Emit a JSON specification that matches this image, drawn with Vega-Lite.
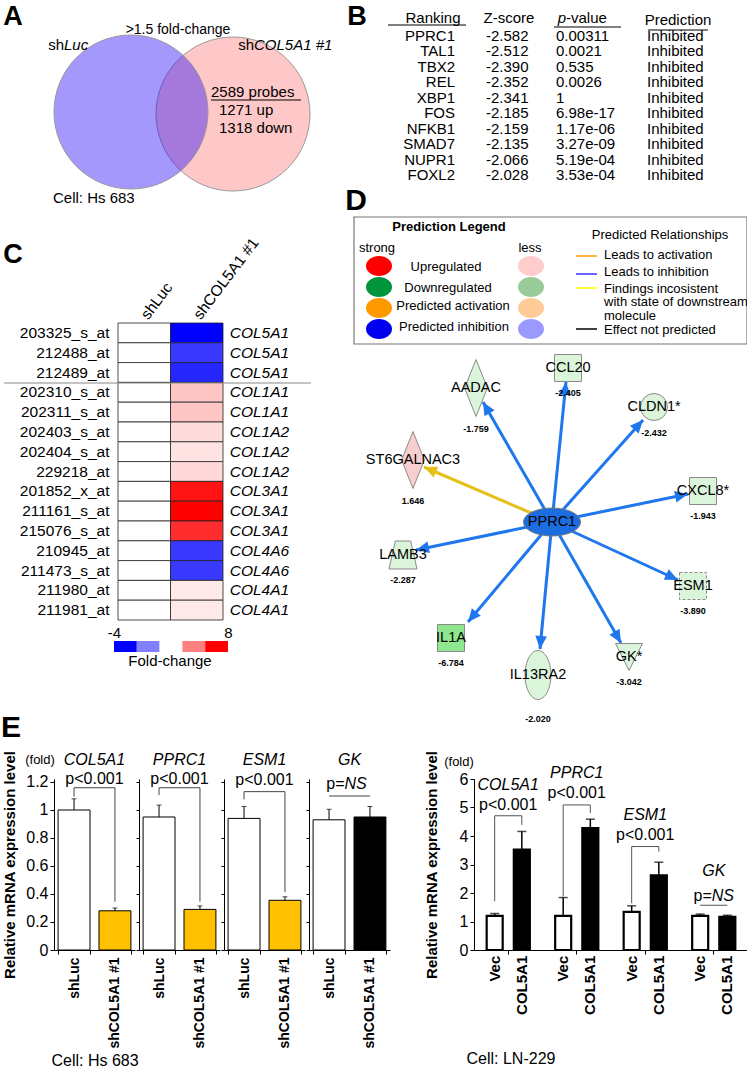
{
"$schema": "https://vega.github.io/schema/vega-lite/v6.json",
"background": "white",
"padding": 0,
"bounds": "flush",
"spacing": 99,
"config": {
  "font": "Liberation Sans",
  "view": {"stroke": null},
  "legend": {"disable": true},
  "axis": {"labelColor": "black", "titleColor": "black", "domainColor": "black", "tickColor": "black", "grid": false, "labelFont": "Liberation Sans", "titleFont": "Liberation Sans", "labelOverlap": false},
  "text": {"color": "black"}
},
"datasets": {
  "venn": [{"set": "shCOL5A1 #1", "x": 232, "y": 114}, {"set": "shLuc", "x": 130, "y": 112}],
  "lines": [
    {"x": 387, "x2": 465, "y": 25, "g": "ul"},
    {"x": 553, "x2": 620, "y": 27, "g": "ul"},
    {"x": 647, "x2": 707, "y": 30, "g": "ul"},
    {"x": 210, "x2": 300, "y": 100, "g": "ul"},
    {"x": 3, "x2": 310, "y": 383, "g": "sep"}
  ],
  "legbox": [{"x": 353, "x2": 746, "y": 217, "y2": 344}],
  "legdots": [
    {"x": 378, "y": 266, "key": "s_up"}, {"x": 378, "y": 287, "key": "s_down"},
    {"x": 378, "y": 308, "key": "s_act"}, {"x": 378, "y": 329, "key": "s_inh"},
    {"x": 530, "y": 266, "key": "l_up"}, {"x": 530, "y": 287, "key": "l_down"},
    {"x": 530, "y": 308, "key": "l_act"}, {"x": 530, "y": 329, "key": "l_inh"}
  ],
  "leglines": [
    {"x": 575, "x2": 596, "y": 256, "rel": "activation"},
    {"x": 575, "x2": 596, "y": 274, "rel": "inhibition"},
    {"x": 575, "x2": 596, "y": 288, "rel": "inconsistent"},
    {"x": 575, "x2": 596, "y": 329, "rel": "notpredicted"}
  ],
  "edges": [
    {"target": "AADAC", "rel": "inhibition", "x": 551, "y": 522, "x2": 482, "y2": 402, "angle": 330},
    {"target": "CCL20", "rel": "inhibition", "x": 551, "y": 522, "x2": 565, "y2": 382, "angle": 6},
    {"target": "CLDN1*", "rel": "inhibition", "x": 551, "y": 522, "x2": 642, "y2": 420, "angle": 42},
    {"target": "CXCL8*", "rel": "inhibition", "x": 551, "y": 522, "x2": 687, "y2": 494, "angle": 78},
    {"target": "ESM1", "rel": "inhibition", "x": 551, "y": 522, "x2": 677, "y2": 580, "angle": 115},
    {"target": "GK*", "rel": "inhibition", "x": 551, "y": 522, "x2": 620, "y2": 643, "angle": 150},
    {"target": "IL13RA2", "rel": "inhibition", "x": 551, "y": 522, "x2": 539, "y2": 649, "angle": 185},
    {"target": "IL1A", "rel": "inhibition", "x": 551, "y": 522, "x2": 467, "y2": 622, "angle": 220},
    {"target": "LAMB3", "rel": "inhibition", "x": 551, "y": 522, "x2": 415, "y2": 550, "angle": 258},
    {"target": "ST6GALNAC3", "rel": "inconsistent", "x": 551, "y": 522, "x2": 423, "y2": 467, "angle": 293}
  ],
  "nodes": [
    {"id": "PPRC1", "x": 551, "y": 522, "shape": "hub", "reg": "hub", "border": "solid", "val": "", "vx": 551, "vy": 522},
    {"id": "AADAC", "x": 475, "y": 388, "shape": "diamond", "reg": "down", "border": "solid", "val": "-1.759", "vx": 475, "vy": 429},
    {"id": "CCL20", "x": 567, "y": 368, "shape": "square", "reg": "down", "border": "solid", "val": "-2.405", "vx": 567, "vy": 393},
    {"id": "CLDN1*", "x": 653, "y": 407, "shape": "circle", "reg": "down", "border": "solid", "val": "-2.432", "vx": 653, "vy": 433},
    {"id": "ST6GALNAC3", "x": 412, "y": 460, "shape": "diamond", "reg": "up", "border": "solid", "val": "1.646", "vx": 412, "vy": 501},
    {"id": "CXCL8*", "x": 702, "y": 491, "shape": "square", "reg": "down", "border": "solid", "val": "-1.943", "vx": 702, "vy": 516},
    {"id": "LAMB3", "x": 402, "y": 555, "shape": "trapezoid", "reg": "down", "border": "solid", "val": "-2.287", "vx": 402, "vy": 580},
    {"id": "ESM1", "x": 692, "y": 586, "shape": "square", "reg": "down", "border": "dashed", "val": "-3.890", "vx": 692, "vy": 611},
    {"id": "IL1A", "x": 450, "y": 638, "shape": "square", "reg": "strongdown", "border": "solid", "val": "-6.784", "vx": 450, "vy": 663},
    {"id": "IL13RA2", "x": 537, "y": 675, "shape": "ellipseV", "reg": "down", "border": "solid", "val": "-2.020", "vx": 537, "vy": 719},
    {"id": "GK*", "x": 628, "y": 657, "shape": "triangleDown", "reg": "down", "border": "solid", "val": "-3.042", "vx": 628, "vy": 682}
  ],
  "ctext": [
    {"x": 12, "y": 17, "t": "A", "k": "L"},
    {"x": 356, "y": 17, "t": "B", "k": "L"},
    {"x": 12, "y": 255, "t": "C", "k": "L"},
    {"x": 355, "y": 201, "t": "D", "k": "L2"},
    {"x": 10, "y": 728, "t": "E", "k": "L2"},
    {"x": 177, "y": 30, "t": ">1.5 fold-change", "k": "c14"},
    {"x": 63, "y": 45, "t": "sh", "k": "r15"},
    {"x": 63, "y": 45, "t": "Luc", "k": "li15"},
    {"x": 253, "y": 45, "t": "sh", "k": "r15"},
    {"x": 253, "y": 45, "t": "COL5A1 #1", "k": "li15"},
    {"x": 210, "y": 92, "t": "2589 probes", "k": "l15"},
    {"x": 218, "y": 110, "t": "1271 up", "k": "l15"},
    {"x": 218, "y": 128, "t": "1318 down", "k": "l15"},
    {"x": 52, "y": 198, "t": "Cell: Hs 683", "k": "l15"},
    {"x": 432, "y": 18, "t": "Ranking", "k": "c15"},
    {"x": 508, "y": 18, "t": "Z-score", "k": "c15"},
    {"x": 565, "y": 18, "t": "p", "k": "ri15"},
    {"x": 565, "y": 18, "t": "-value", "k": "l15"},
    {"x": 677, "y": 20, "t": "Prediction", "k": "c15"},
    {"x": 169, "y": 661, "t": "Fold-change", "k": "c15"},
    {"x": 448, "y": 227, "t": "Prediction Legend", "k": "cb13"},
    {"x": 376, "y": 248, "t": "strong", "k": "c13"},
    {"x": 529, "y": 248, "t": "less", "k": "c13"},
    {"x": 445, "y": 267, "t": "Upregulated", "k": "c13"},
    {"x": 447, "y": 288, "t": "Downregulated", "k": "c13"},
    {"x": 452, "y": 306, "t": "Predicted activation", "k": "c13"},
    {"x": 453, "y": 327, "t": "Predicted inhibition", "k": "c13"},
    {"x": 659, "y": 235, "t": "Predicted Relationships", "k": "c13"},
    {"x": 603, "y": 255, "t": "Leads to activation", "k": "l13"},
    {"x": 603, "y": 272, "t": "Leads to inhibition", "k": "l13"},
    {"x": 603, "y": 289, "t": "Findings incosistent", "k": "l13"},
    {"x": 603, "y": 302, "t": "with state of downstream", "k": "l13"},
    {"x": 603, "y": 316, "t": "molecule", "k": "l13"},
    {"x": 603, "y": 330, "t": "Effect not predicted", "k": "l13"},
    {"x": 39, "y": 760, "t": "(fold)", "k": "c13"},
    {"x": 458, "y": 762, "t": "(fold)", "k": "c13"}
  ],
  "table": [
    {"rank": 1, "gene": "PPRC1", "z": "-2.582", "p": "0.00311", "pred": "Inhibited"},
    {"rank": 2, "gene": "TAL1", "z": "-2.512", "p": "0.0021", "pred": "Inhibited"},
    {"rank": 3, "gene": "TBX2", "z": "-2.390", "p": "0.535", "pred": "Inhibited"},
    {"rank": 4, "gene": "REL", "z": "-2.352", "p": "0.0026", "pred": "Inhibited"},
    {"rank": 5, "gene": "XBP1", "z": "-2.341", "p": "1", "pred": "Inhibited"},
    {"rank": 6, "gene": "FOS", "z": "-2.185", "p": "6.98e-17", "pred": "Inhibited"},
    {"rank": 7, "gene": "NFKB1", "z": "-2.159", "p": "1.17e-06", "pred": "Inhibited"},
    {"rank": 8, "gene": "SMAD7", "z": "-2.135", "p": "3.27e-09", "pred": "Inhibited"},
    {"rank": 9, "gene": "NUPR1", "z": "-2.066", "p": "5.19e-04", "pred": "Inhibited"},
    {"rank": 10, "gene": "FOXL2", "z": "-2.028", "p": "3.53e-04", "pred": "Inhibited"}
  ],
  "heat": [
    {"probe": "203325_s_at", "gene": "COL5A1", "cond": "shLuc", "fc": 0}, {"probe": "203325_s_at", "gene": "COL5A1", "cond": "shCOL5A1 #1", "fc": -4},
    {"probe": "212488_at", "gene": "COL5A1", "cond": "shLuc", "fc": 0}, {"probe": "212488_at", "gene": "COL5A1", "cond": "shCOL5A1 #1", "fc": -3.1},
    {"probe": "212489_at", "gene": "COL5A1", "cond": "shLuc", "fc": 0}, {"probe": "212489_at", "gene": "COL5A1", "cond": "shCOL5A1 #1", "fc": -3.4},
    {"probe": "202310_s_at", "gene": "COL1A1", "cond": "shLuc", "fc": 0}, {"probe": "202310_s_at", "gene": "COL1A1", "cond": "shCOL5A1 #1", "fc": 1.8},
    {"probe": "202311_s_at", "gene": "COL1A1", "cond": "shLuc", "fc": 0}, {"probe": "202311_s_at", "gene": "COL1A1", "cond": "shCOL5A1 #1", "fc": 1.8},
    {"probe": "202403_s_at", "gene": "COL1A2", "cond": "shLuc", "fc": 0}, {"probe": "202403_s_at", "gene": "COL1A2", "cond": "shCOL5A1 #1", "fc": 1.1},
    {"probe": "202404_s_at", "gene": "COL1A2", "cond": "shLuc", "fc": 0}, {"probe": "202404_s_at", "gene": "COL1A2", "cond": "shCOL5A1 #1", "fc": 0.9},
    {"probe": "229218_at", "gene": "COL1A2", "cond": "shLuc", "fc": 0}, {"probe": "229218_at", "gene": "COL1A2", "cond": "shCOL5A1 #1", "fc": 1.2},
    {"probe": "201852_x_at", "gene": "COL3A1", "cond": "shLuc", "fc": 0}, {"probe": "201852_x_at", "gene": "COL3A1", "cond": "shCOL5A1 #1", "fc": 7.4},
    {"probe": "211161_s_at", "gene": "COL3A1", "cond": "shLuc", "fc": 0}, {"probe": "211161_s_at", "gene": "COL3A1", "cond": "shCOL5A1 #1", "fc": 8},
    {"probe": "215076_s_at", "gene": "COL3A1", "cond": "shLuc", "fc": 0}, {"probe": "215076_s_at", "gene": "COL3A1", "cond": "shCOL5A1 #1", "fc": 6.6},
    {"probe": "210945_at", "gene": "COL4A6", "cond": "shLuc", "fc": 0}, {"probe": "210945_at", "gene": "COL4A6", "cond": "shCOL5A1 #1", "fc": -3.1},
    {"probe": "211473_s_at", "gene": "COL4A6", "cond": "shLuc", "fc": 0}, {"probe": "211473_s_at", "gene": "COL4A6", "cond": "shCOL5A1 #1", "fc": -3.1},
    {"probe": "211980_at", "gene": "COL4A1", "cond": "shLuc", "fc": 0}, {"probe": "211980_at", "gene": "COL4A1", "cond": "shCOL5A1 #1", "fc": 0.7},
    {"probe": "211981_at", "gene": "COL4A1", "cond": "shLuc", "fc": 0}, {"probe": "211981_at", "gene": "COL4A1", "cond": "shCOL5A1 #1", "fc": 0.7}
  ],
  "fcleg": [
    {"lo": -4, "hi": -1.6, "fc": -4}, {"lo": -1.6, "hi": 0.8, "fc": -2}, {"lo": 0.8, "hi": 3.2, "fc": 0},
    {"lo": 3.2, "hi": 5.6, "fc": 4}, {"lo": 5.6, "hi": 8, "fc": 8}
  ],
  "eleft": [
    {"gene": "COL5A1", "cond": "shLuc", "status": "ctrl", "mean": 1.0, "upper": 1.08},
    {"gene": "COL5A1", "cond": "shCOL5A1 #1", "status": "down", "mean": 0.28, "upper": 0.3},
    {"gene": "PPRC1", "cond": "shLuc", "status": "ctrl", "mean": 0.95, "upper": 1.035},
    {"gene": "PPRC1", "cond": "shCOL5A1 #1", "status": "down", "mean": 0.29, "upper": 0.315},
    {"gene": "ESM1", "cond": "shLuc", "status": "ctrl", "mean": 0.94, "upper": 1.025},
    {"gene": "ESM1", "cond": "shCOL5A1 #1", "status": "down", "mean": 0.355, "upper": 0.38},
    {"gene": "GK", "cond": "shLuc", "status": "ctrl", "mean": 0.93, "upper": 1.005},
    {"gene": "GK", "cond": "shCOL5A1 #1", "status": "ns", "mean": 0.95, "upper": 1.025}
  ],
  "bleft": [
    {"gene": "COL5A1", "cond": "shLuc", "y": 1.095, "o": 0}, {"gene": "COL5A1", "cond": "shLuc", "y": 1.159, "o": 1},
    {"gene": "COL5A1", "cond": "shCOL5A1 #1", "y": 1.159, "o": 2}, {"gene": "COL5A1", "cond": "shCOL5A1 #1", "y": 0.345, "o": 3},
    {"gene": "PPRC1", "cond": "shLuc", "y": 1.107, "o": 0}, {"gene": "PPRC1", "cond": "shLuc", "y": 1.159, "o": 1},
    {"gene": "PPRC1", "cond": "shCOL5A1 #1", "y": 1.159, "o": 2}, {"gene": "PPRC1", "cond": "shCOL5A1 #1", "y": 0.345, "o": 3},
    {"gene": "ESM1", "cond": "shLuc", "y": 1.076, "o": 0}, {"gene": "ESM1", "cond": "shLuc", "y": 1.131, "o": 1},
    {"gene": "ESM1", "cond": "shCOL5A1 #1", "y": 1.131, "o": 2}, {"gene": "ESM1", "cond": "shCOL5A1 #1", "y": 0.414, "o": 3},
    {"gene": "GK", "cond": "shLuc", "y": 1.1, "o": 0}, {"gene": "GK", "cond": "shCOL5A1 #1", "y": 1.1, "o": 1}
  ],
  "eright": [
    {"gene": "COL5A1", "cond": "Vec", "status": "ctrl", "mean": 1.2, "upper": 1.28},
    {"gene": "COL5A1", "cond": "COL5A1", "status": "oe", "mean": 3.52, "upper": 4.16},
    {"gene": "PPRC1", "cond": "Vec", "status": "ctrl", "mean": 1.2, "upper": 1.84},
    {"gene": "PPRC1", "cond": "COL5A1", "status": "oe", "mean": 4.28, "upper": 4.59},
    {"gene": "ESM1", "cond": "Vec", "status": "ctrl", "mean": 1.34, "upper": 1.55},
    {"gene": "ESM1", "cond": "COL5A1", "status": "oe", "mean": 2.62, "upper": 3.08},
    {"gene": "GK", "cond": "Vec", "status": "ctrl", "mean": 1.2, "upper": 1.26},
    {"gene": "GK", "cond": "COL5A1", "status": "oe", "mean": 1.16, "upper": 1.22}
  ],
  "bright": [
    {"gene": "COL5A1", "cond": "Vec", "y": 1.71, "o": 0}, {"gene": "COL5A1", "cond": "Vec", "y": 4.71, "o": 1},
    {"gene": "COL5A1", "cond": "COL5A1", "y": 4.71, "o": 2}, {"gene": "COL5A1", "cond": "COL5A1", "y": 4.39, "o": 3},
    {"gene": "PPRC1", "cond": "Vec", "y": 1.88, "o": 0}, {"gene": "PPRC1", "cond": "Vec", "y": 5.09, "o": 1},
    {"gene": "PPRC1", "cond": "COL5A1", "y": 5.09, "o": 2}, {"gene": "PPRC1", "cond": "COL5A1", "y": 4.81, "o": 3},
    {"gene": "ESM1", "cond": "Vec", "y": 1.64, "o": 0}, {"gene": "ESM1", "cond": "Vec", "y": 3.63, "o": 1},
    {"gene": "ESM1", "cond": "COL5A1", "y": 3.63, "o": 2}, {"gene": "ESM1", "cond": "COL5A1", "y": 3.45, "o": 3},
    {"gene": "GK", "cond": "Vec", "y": 1.57, "o": 0}, {"gene": "GK", "cond": "COL5A1", "y": 1.57, "o": 1}
  ],
  "eannr": [
    {"gene": "COL5A1", "ny": 5.79, "py": 5.09},
    {"gene": "PPRC1", "ny": 6.21, "py": 5.51},
    {"gene": "ESM1", "ny": 4.74, "py": 4.05},
    {"gene": "GK", "ny": 2.76, "py": 1.88}
  ]
},
"vconcat": [
  {
    "width": 747, "height": 680,
    "resolve": {"scale": {"x": "independent", "y": "independent", "color": "independent"}},
    "layer": [
      {
        "data": {"name": "heat"},
        "mark": {"type": "rect", "stroke": "#222", "strokeWidth": 0.8},
        "encoding": {
          "x": {"field": "cond", "type": "nominal", "scale": {"domain": ["shLuc", "shCOL5A1 #1"], "range": [117, 222], "paddingInner": 0, "paddingOuter": 0},
                "axis": {"orient": "top", "offset": -323, "domain": false, "ticks": false, "labelAngle": -53, "labelAlign": "left", "labelBaseline": "middle", "labelPadding": 6, "labelFontSize": 15.5, "title": null}},
          "y": {"field": "probe", "type": "nominal", "sort": null, "scale": {"range": [323, 620], "paddingInner": 0, "paddingOuter": 0},
                "axis": {"orient": "left", "offset": -117, "domain": false, "ticks": false, "labelPadding": 9, "labelFontSize": 15.5, "title": null}},
          "color": {"field": "fc", "type": "quantitative", "scale": {"domain": [-4, 0, 8], "range": ["#0000ff", "#ffffff", "#ff0000"], "interpolate": "rgb"}}
        }
      },
      {
        "data": {"name": "heat"},
        "transform": [{"filter": "datum.cond === 'shCOL5A1 #1'"}],
        "mark": {"type": "text", "align": "left", "dx": 33, "fontStyle": "italic", "fontSize": 15.5},
        "encoding": {
          "x": {"field": "cond", "type": "nominal", "scale": {"domain": ["shLuc", "shCOL5A1 #1"], "range": [117, 222], "paddingInner": 0, "paddingOuter": 0}, "axis": null},
          "y": {"field": "probe", "type": "nominal", "sort": null, "scale": {"range": [323, 620], "paddingInner": 0, "paddingOuter": 0}, "axis": null},
          "text": {"field": "gene"}
        }
      },
      {
        "data": {"name": "fcleg"},
        "mark": {"type": "rect"},
        "encoding": {
          "x": {"field": "lo", "type": "quantitative", "scale": {"domain": [-4, 8], "range": [113, 227], "nice": false, "zero": false},
                "axis": {"orient": "top", "offset": -641, "values": [-4, 8], "labelExpr": "'' + datum.value", "domain": false, "ticks": false, "labelPadding": 1, "labelFontSize": 15, "labelFlush": false, "title": null}},
          "x2": {"field": "hi"},
          "y": {"datum": "Fold-change", "type": "nominal", "scale": {"range": [641, 652], "paddingInner": 0, "paddingOuter": 0}, "axis": null},
          "color": {"field": "fc", "type": "quantitative", "scale": {"domain": [-4, 0, 8], "range": ["#0000ff", "#ffffff", "#ff0000"], "interpolate": "rgb"}}
        }
      },
      {
        "data": {"name": "table"},
        "encoding": {"y": {"field": "rank", "type": "quantitative", "scale": {"domain": [1, 10], "range": [36, 175], "nice": false, "zero": false}, "axis": null}},
        "layer": [
          {"mark": {"type": "text", "align": "right", "fontSize": 15}, "encoding": {"x": {"datum": 454, "type": "quantitative", "scale": {"domain": [0, 747], "nice": false, "zero": false}, "axis": null}, "text": {"field": "gene"}}},
          {"mark": {"type": "text", "align": "left", "fontSize": 15}, "encoding": {"x": {"datum": 485, "type": "quantitative", "scale": {"domain": [0, 747], "nice": false, "zero": false}, "axis": null}, "text": {"field": "z"}}},
          {"mark": {"type": "text", "align": "left", "fontSize": 15}, "encoding": {"x": {"datum": 555, "type": "quantitative", "scale": {"domain": [0, 747], "nice": false, "zero": false}, "axis": null}, "text": {"field": "p"}}},
          {"mark": {"type": "text", "align": "left", "fontSize": 15}, "encoding": {"x": {"datum": 646, "type": "quantitative", "scale": {"domain": [0, 747], "nice": false, "zero": false}, "axis": null}, "text": {"field": "pred"}}}
        ]
      },
      {
        "encoding": {
          "x": {"field": "x", "type": "quantitative", "scale": {"domain": [0, 747], "nice": false, "zero": false}, "axis": null},
          "y": {"field": "y", "type": "quantitative", "scale": {"domain": [0, 680], "nice": false, "zero": false, "reverse": true}, "axis": null}
        },
        "resolve": {"scale": {"fill": "independent", "stroke": "independent", "color": "independent"}},
        "layer": [
          {
            "data": {"name": "venn"},
            "mark": {"type": "point", "shape": "circle", "size": 23716, "filled": true, "opacity": 1, "stroke": "#999", "strokeWidth": 1},
            "encoding": {"fill": {"field": "set", "type": "nominal", "scale": {"domain": ["shCOL5A1 #1", "shLuc"], "range": ["#ffc8c8", "rgba(40,9,248,0.42)"]}}}
          },
          {
            "data": {"name": "lines"},
            "mark": {"type": "rule", "strokeWidth": 1.2},
            "encoding": {"x2": {"field": "x2"}, "stroke": {"field": "g", "type": "nominal", "scale": {"domain": ["ul", "sep"], "range": ["black", "#888"]}}}
          },
          {
            "data": {"name": "legbox"},
            "mark": {"type": "rect", "fillOpacity": 0, "stroke": "#777", "strokeWidth": 1.2},
            "encoding": {"x2": {"field": "x2"}, "y2": {"field": "y2"}}
          },
          {
            "data": {"name": "legdots"},
            "mark": {"type": "point", "filled": true, "opacity": 1, "size": 676, "shape": "M-1,0A1,0.77,0,1,1,1,0A1,0.77,0,1,1,-1,0Z"},
            "encoding": {"fill": {"field": "key", "type": "nominal", "scale": {"domain": ["s_up", "s_down", "s_act", "s_inh", "l_up", "l_down", "l_act", "l_inh"], "range": ["#ff0000", "#00953a", "#ff9900", "#0000ee", "#ffcccc", "#99cc99", "#ffcc99", "#9999ff"]}}}
          },
          {
            "data": {"name": "leglines"},
            "mark": {"type": "rule", "strokeWidth": 1.5},
            "encoding": {"x2": {"field": "x2"}, "stroke": {"field": "rel", "type": "nominal", "scale": {"domain": ["activation", "inhibition", "inconsistent", "notpredicted"], "range": ["#ff9900", "#3333ff", "#ffff00", "#000000"]}}}
          },
          {
            "data": {"name": "edges"},
            "mark": {"type": "rule", "strokeWidth": 3},
            "encoding": {"x2": {"field": "x2"}, "y2": {"field": "y2"}, "stroke": {"field": "rel", "type": "nominal", "scale": {"domain": ["inhibition", "inconsistent"], "range": ["#1f77ee", "#e6c01a"]}}}
          },
          {
            "data": {"name": "edges"},
            "mark": {"type": "point", "filled": true, "opacity": 1, "size": 676, "shape": "M0,0L-0.45,1L0.45,1Z"},
            "encoding": {
              "x": {"field": "x2", "type": "quantitative", "scale": {"domain": [0, 747], "nice": false, "zero": false}, "axis": null},
              "y": {"field": "y2", "type": "quantitative", "scale": {"domain": [0, 680], "nice": false, "zero": false, "reverse": true}, "axis": null},
              "angle": {"field": "angle", "type": "quantitative", "scale": null},
              "fill": {"field": "rel", "type": "nominal", "scale": {"domain": ["inhibition", "inconsistent"], "range": ["#1f77ee", "#e6c01a"]}}
            }
          },
          {
            "data": {"name": "nodes"},
            "transform": [{"filter": "datum.shape === 'hub'"}],
            "mark": {"type": "point", "filled": true, "opacity": 1, "stroke": "#777", "strokeWidth": 1, "shape": "M-1,0A1,0.49,0,1,1,1,0A1,0.49,0,1,1,-1,0Z", "size": 3249},
            "encoding": {"fill": {"field": "reg", "type": "nominal", "scale": {"domain": ["hub", "down", "up", "strongdown"], "range": ["#1c6de0", "#dbf5db", "#f8cece", "#8ee68e"]}}}
          },
          {
            "data": {"name": "nodes"},
            "transform": [{"filter": "datum.shape === 'diamond'"}],
            "mark": {"type": "point", "filled": true, "opacity": 1, "stroke": "#8a8a8a", "strokeWidth": 1, "shape": "M0,-1L0.4,0L0,1L-0.4,0Z", "size": 3249},
            "encoding": {"fill": {"field": "reg", "type": "nominal", "scale": {"domain": ["hub", "down", "up", "strongdown"], "range": ["#1c6de0", "#dbf5db", "#f8cece", "#8ee68e"]}}}
          },
          {
            "data": {"name": "nodes"},
            "transform": [{"filter": "datum.shape === 'square' && datum.border === 'solid'"}],
            "mark": {"type": "point", "filled": true, "opacity": 1, "stroke": "#8a8a8a", "strokeWidth": 1, "shape": "square", "size": 729},
            "encoding": {"fill": {"field": "reg", "type": "nominal", "scale": {"domain": ["hub", "down", "up", "strongdown"], "range": ["#1c6de0", "#dbf5db", "#f8cece", "#8ee68e"]}}}
          },
          {
            "data": {"name": "nodes"},
            "transform": [{"filter": "datum.shape === 'square' && datum.border === 'dashed'"}],
            "mark": {"type": "point", "filled": true, "opacity": 1, "stroke": "#8a8a8a", "strokeWidth": 1, "strokeDash": [3, 2], "shape": "square", "size": 729},
            "encoding": {"fill": {"field": "reg", "type": "nominal", "scale": {"domain": ["hub", "down", "up", "strongdown"], "range": ["#1c6de0", "#dbf5db", "#f8cece", "#8ee68e"]}}}
          },
          {
            "data": {"name": "nodes"},
            "transform": [{"filter": "datum.shape === 'circle'"}],
            "mark": {"type": "point", "filled": true, "opacity": 1, "stroke": "#8a8a8a", "strokeWidth": 1, "shape": "circle", "size": 729},
            "encoding": {"fill": {"field": "reg", "type": "nominal", "scale": {"domain": ["hub", "down", "up", "strongdown"], "range": ["#1c6de0", "#dbf5db", "#f8cece", "#8ee68e"]}}}
          },
          {
            "data": {"name": "nodes"},
            "transform": [{"filter": "datum.shape === 'trapezoid'"}],
            "mark": {"type": "point", "filled": true, "opacity": 1, "stroke": "#8a8a8a", "strokeWidth": 1, "shape": "M-0.55,-1L0.55,-1L1,1L-1,1Z", "size": 784},
            "encoding": {"fill": {"field": "reg", "type": "nominal", "scale": {"domain": ["hub", "down", "up", "strongdown"], "range": ["#1c6de0", "#dbf5db", "#f8cece", "#8ee68e"]}}}
          },
          {
            "data": {"name": "nodes"},
            "transform": [{"filter": "datum.shape === 'ellipseV'"}],
            "mark": {"type": "point", "filled": true, "opacity": 1, "stroke": "#8a8a8a", "strokeWidth": 1, "shape": "M0,-1A0.53,1,0,1,1,0,1A0.53,1,0,1,1,0,-1Z", "size": 2401},
            "encoding": {"fill": {"field": "reg", "type": "nominal", "scale": {"domain": ["hub", "down", "up", "strongdown"], "range": ["#1c6de0", "#dbf5db", "#f8cece", "#8ee68e"]}}}
          },
          {
            "data": {"name": "nodes"},
            "transform": [{"filter": "datum.shape === 'triangleDown'"}],
            "mark": {"type": "point", "filled": true, "opacity": 1, "stroke": "#8a8a8a", "strokeWidth": 1, "shape": "M-1,-1L1,-1L0,1Z", "size": 729},
            "encoding": {"fill": {"field": "reg", "type": "nominal", "scale": {"domain": ["hub", "down", "up", "strongdown"], "range": ["#1c6de0", "#dbf5db", "#f8cece", "#8ee68e"]}}}
          },
          {
            "data": {"name": "nodes"},
            "mark": {"type": "text", "fontSize": 14.5},
            "encoding": {"text": {"field": "id"}}
          },
          {
            "data": {"name": "nodes"},
            "transform": [{"filter": "datum.val !== ''"}],
            "mark": {"type": "text", "fontSize": 9, "fontWeight": "bold"},
            "encoding": {
              "x": {"field": "vx", "type": "quantitative", "scale": {"domain": [0, 747], "nice": false, "zero": false}, "axis": null},
              "y": {"field": "vy", "type": "quantitative", "scale": {"domain": [0, 680], "nice": false, "zero": false, "reverse": true}, "axis": null},
              "text": {"field": "val"}
            }
          },
          {"data": {"name": "ctext"}, "transform": [{"filter": "datum.k === 'L'"}], "mark": {"type": "text", "fontSize": 27, "fontWeight": "bold"}, "encoding": {"text": {"field": "t"}}},
          {"data": {"name": "ctext"}, "transform": [{"filter": "datum.k === 'L2'"}], "mark": {"type": "text", "fontSize": 30, "fontWeight": "bold"}, "encoding": {"text": {"field": "t"}}},
          {"data": {"name": "ctext"}, "transform": [{"filter": "datum.k === 'c14'"}], "mark": {"type": "text", "fontSize": 14}, "encoding": {"text": {"field": "t"}}},
          {"data": {"name": "ctext"}, "transform": [{"filter": "datum.k === 'c15'"}], "mark": {"type": "text", "fontSize": 15}, "encoding": {"text": {"field": "t"}}},
          {"data": {"name": "ctext"}, "transform": [{"filter": "datum.k === 'l15'"}], "mark": {"type": "text", "fontSize": 15, "align": "left"}, "encoding": {"text": {"field": "t"}}},
          {"data": {"name": "ctext"}, "transform": [{"filter": "datum.k === 'r15'"}], "mark": {"type": "text", "fontSize": 15, "align": "right"}, "encoding": {"text": {"field": "t"}}},
          {"data": {"name": "ctext"}, "transform": [{"filter": "datum.k === 'li15'"}], "mark": {"type": "text", "fontSize": 15, "align": "left", "fontStyle": "italic"}, "encoding": {"text": {"field": "t"}}},
          {"data": {"name": "ctext"}, "transform": [{"filter": "datum.k === 'ri15'"}], "mark": {"type": "text", "fontSize": 15, "align": "right", "fontStyle": "italic"}, "encoding": {"text": {"field": "t"}}},
          {"data": {"name": "ctext"}, "transform": [{"filter": "datum.k === 'cb13'"}], "mark": {"type": "text", "fontSize": 13, "fontWeight": "bold"}, "encoding": {"text": {"field": "t"}}},
          {"data": {"name": "ctext"}, "transform": [{"filter": "datum.k === 'c13'"}], "mark": {"type": "text", "fontSize": 13}, "encoding": {"text": {"field": "t"}}},
          {"data": {"name": "ctext"}, "transform": [{"filter": "datum.k === 'l13'"}], "mark": {"type": "text", "fontSize": 13, "align": "left"}, "encoding": {"text": {"field": "t"}}}
        ]
      }
    ]
  },
  {
    "bounds": "flush",
    "spacing": 4,
    "hconcat": [
      {"width": 49, "height": 171, "data": {"values": [{"a": 1}]}, "mark": {"type": "point", "opacity": 0}},
      {
        "width": 81, "height": 171,
        "data": {"name": "eleft"},
        "transform": [{"filter": "datum.gene === 'COL5A1'"}],
        "layer": [
          {"mark": {"type": "bar", "stroke": "black", "strokeWidth": 1},
           "encoding": {
             "x": {"field": "cond", "type": "nominal", "scale": {"domain": ["shLuc", "shCOL5A1 #1"], "paddingInner": 0.22, "paddingOuter": 0.1},
                   "axis": {"title": "Cell: Hs 683", "titleFontSize": 16, "titleFontWeight": "normal", "labelAngle": -90, "labelFontSize": 14, "labelFontWeight": "bold", "labelPadding": 3, "tickBand": "extent", "tickSize": 4}},
             "y": {"field": "mean", "type": "quantitative", "scale": {"domain": [0, 1.2214], "nice": false},
                   "axis": {"tickCount": 7, "format": "~g", "labelOverlap": false, "title": "Relative mRNA expression level", "titleFontSize": 15, "titleFontWeight": "bold", "titlePadding": 8, "labelFontSize": 16, "tickSize": 4}},
             "fill": {"field": "status", "type": "nominal", "scale": {"domain": ["ctrl", "down", "ns", "oe"], "range": ["white", "#ffc000", "black", "black"]}}
           }},
          {"mark": {"type": "rule", "color": "black", "strokeWidth": 1},
           "encoding": {"x": {"field": "cond", "type": "nominal"}, "y": {"field": "mean", "type": "quantitative", "scale": {"domain": [0, 1.2214], "nice": false}}, "y2": {"field": "upper"}}},
          {"mark": {"type": "tick", "color": "black", "thickness": 1, "size": 5},
           "encoding": {"x": {"field": "cond", "type": "nominal"}, "y": {"field": "upper", "type": "quantitative", "scale": {"domain": [0, 1.2214], "nice": false}}}},
          {"data": {"name": "bleft"}, "transform": [{"filter": "datum.gene === 'COL5A1'"}],
           "mark": {"type": "line", "color": "#444", "strokeWidth": 1},
           "encoding": {"x": {"field": "cond", "type": "nominal"}, "y": {"field": "y", "type": "quantitative", "scale": {"domain": [0, 1.2214], "nice": false}}, "order": {"field": "o", "type": "quantitative"}}},
          {"transform": [{"filter": "datum.cond === 'shLuc'"}],
           "mark": {"type": "text", "fontSize": 16, "fontStyle": "italic"},
           "encoding": {"y": {"datum": 1.357, "scale": {"domain": [0, 1.2214], "nice": false}}, "text": {"field": "gene"}}},
          {"transform": [{"filter": "datum.cond === 'shLuc'"}],
           "mark": {"type": "text", "fontSize": 16, "text": "p<0.001"},
           "encoding": {"y": {"datum": 1.219, "scale": {"domain": [0, 1.2214], "nice": false}}}}
        ]
      },
      {
        "width": 81, "height": 171,
        "data": {"name": "eleft"},
        "transform": [{"filter": "datum.gene === 'PPRC1'"}],
        "layer": [
          {"mark": {"type": "bar", "stroke": "black", "strokeWidth": 1},
           "encoding": {
             "x": {"field": "cond", "type": "nominal", "scale": {"domain": ["shLuc", "shCOL5A1 #1"], "paddingInner": 0.22, "paddingOuter": 0.1},
                   "axis": {"title": null, "labelAngle": -90, "labelFontSize": 14, "labelFontWeight": "bold", "labelPadding": 3, "tickBand": "extent", "tickSize": 4}},
             "y": {"field": "mean", "type": "quantitative", "scale": {"domain": [0, 1.2214], "nice": false},
                   "axis": {"tickCount": 7, "labels": false, "title": null, "tickSize": 3}},
             "fill": {"field": "status", "type": "nominal", "scale": {"domain": ["ctrl", "down", "ns", "oe"], "range": ["white", "#ffc000", "black", "black"]}}
           }},
          {"mark": {"type": "rule", "color": "black", "strokeWidth": 1},
           "encoding": {"x": {"field": "cond", "type": "nominal"}, "y": {"field": "mean", "type": "quantitative", "scale": {"domain": [0, 1.2214], "nice": false}}, "y2": {"field": "upper"}}},
          {"mark": {"type": "tick", "color": "black", "thickness": 1, "size": 5},
           "encoding": {"x": {"field": "cond", "type": "nominal"}, "y": {"field": "upper", "type": "quantitative", "scale": {"domain": [0, 1.2214], "nice": false}}}},
          {"data": {"name": "bleft"}, "transform": [{"filter": "datum.gene === 'PPRC1'"}],
           "mark": {"type": "line", "color": "#444", "strokeWidth": 1},
           "encoding": {"x": {"field": "cond", "type": "nominal"}, "y": {"field": "y", "type": "quantitative", "scale": {"domain": [0, 1.2214], "nice": false}}, "order": {"field": "o", "type": "quantitative"}}},
          {"transform": [{"filter": "datum.cond === 'shLuc'"}],
           "mark": {"type": "text", "fontSize": 16, "fontStyle": "italic"},
           "encoding": {"y": {"datum": 1.357, "scale": {"domain": [0, 1.2214], "nice": false}}, "text": {"field": "gene"}}},
          {"transform": [{"filter": "datum.cond === 'shLuc'"}],
           "mark": {"type": "text", "fontSize": 16, "text": "p<0.001"},
           "encoding": {"y": {"datum": 1.219, "scale": {"domain": [0, 1.2214], "nice": false}}}}
        ]
      },
      {
        "width": 81, "height": 171,
        "data": {"name": "eleft"},
        "transform": [{"filter": "datum.gene === 'ESM1'"}],
        "layer": [
          {"mark": {"type": "bar", "stroke": "black", "strokeWidth": 1},
           "encoding": {
             "x": {"field": "cond", "type": "nominal", "scale": {"domain": ["shLuc", "shCOL5A1 #1"], "paddingInner": 0.22, "paddingOuter": 0.1},
                   "axis": {"title": null, "labelAngle": -90, "labelFontSize": 14, "labelFontWeight": "bold", "labelPadding": 3, "tickBand": "extent", "tickSize": 4}},
             "y": {"field": "mean", "type": "quantitative", "scale": {"domain": [0, 1.2214], "nice": false},
                   "axis": {"tickCount": 7, "labels": false, "title": null, "tickSize": 3}},
             "fill": {"field": "status", "type": "nominal", "scale": {"domain": ["ctrl", "down", "ns", "oe"], "range": ["white", "#ffc000", "black", "black"]}}
           }},
          {"mark": {"type": "rule", "color": "black", "strokeWidth": 1},
           "encoding": {"x": {"field": "cond", "type": "nominal"}, "y": {"field": "mean", "type": "quantitative", "scale": {"domain": [0, 1.2214], "nice": false}}, "y2": {"field": "upper"}}},
          {"mark": {"type": "tick", "color": "black", "thickness": 1, "size": 5},
           "encoding": {"x": {"field": "cond", "type": "nominal"}, "y": {"field": "upper", "type": "quantitative", "scale": {"domain": [0, 1.2214], "nice": false}}}},
          {"data": {"name": "bleft"}, "transform": [{"filter": "datum.gene === 'ESM1'"}],
           "mark": {"type": "line", "color": "#444", "strokeWidth": 1},
           "encoding": {"x": {"field": "cond", "type": "nominal"}, "y": {"field": "y", "type": "quantitative", "scale": {"domain": [0, 1.2214], "nice": false}}, "order": {"field": "o", "type": "quantitative"}}},
          {"transform": [{"filter": "datum.cond === 'shLuc'"}],
           "mark": {"type": "text", "fontSize": 16, "fontStyle": "italic"},
           "encoding": {"y": {"datum": 1.357, "scale": {"domain": [0, 1.2214], "nice": false}}, "text": {"field": "gene"}}},
          {"transform": [{"filter": "datum.cond === 'shLuc'"}],
           "mark": {"type": "text", "fontSize": 16, "text": "p<0.001"},
           "encoding": {"y": {"datum": 1.214, "scale": {"domain": [0, 1.2214], "nice": false}}}}
        ]
      },
      {
        "width": 81, "height": 171,
        "data": {"name": "eleft"},
        "transform": [{"filter": "datum.gene === 'GK'"}],
        "layer": [
          {"mark": {"type": "bar", "stroke": "black", "strokeWidth": 1},
           "encoding": {
             "x": {"field": "cond", "type": "nominal", "scale": {"domain": ["shLuc", "shCOL5A1 #1"], "paddingInner": 0.22, "paddingOuter": 0.1},
                   "axis": {"title": null, "labelAngle": -90, "labelFontSize": 14, "labelFontWeight": "bold", "labelPadding": 3, "tickBand": "extent", "tickSize": 4}},
             "y": {"field": "mean", "type": "quantitative", "scale": {"domain": [0, 1.2214], "nice": false},
                   "axis": {"tickCount": 7, "labels": false, "title": null, "tickSize": 3}},
             "fill": {"field": "status", "type": "nominal", "scale": {"domain": ["ctrl", "down", "ns", "oe"], "range": ["white", "#ffc000", "black", "black"]}}
           }},
          {"mark": {"type": "rule", "color": "black", "strokeWidth": 1},
           "encoding": {"x": {"field": "cond", "type": "nominal"}, "y": {"field": "mean", "type": "quantitative", "scale": {"domain": [0, 1.2214], "nice": false}}, "y2": {"field": "upper"}}},
          {"mark": {"type": "tick", "color": "black", "thickness": 1, "size": 5},
           "encoding": {"x": {"field": "cond", "type": "nominal"}, "y": {"field": "upper", "type": "quantitative", "scale": {"domain": [0, 1.2214], "nice": false}}}},
          {"data": {"name": "bleft"}, "transform": [{"filter": "datum.gene === 'GK'"}],
           "mark": {"type": "line", "color": "#444", "strokeWidth": 1},
           "encoding": {"x": {"field": "cond", "type": "nominal"}, "y": {"field": "y", "type": "quantitative", "scale": {"domain": [0, 1.2214], "nice": false}}, "order": {"field": "o", "type": "quantitative"}}},
          {"transform": [{"filter": "datum.cond === 'shLuc'"}],
           "mark": {"type": "text", "fontSize": 16, "fontStyle": "italic"},
           "encoding": {"y": {"datum": 1.357, "scale": {"domain": [0, 1.2214], "nice": false}}, "text": {"field": "gene"}}},
          {"transform": [{"filter": "datum.cond === 'shLuc'"}],
           "mark": {"type": "text", "fontSize": 16, "text": "p=", "align": "right", "dx": -5},
           "encoding": {"y": {"datum": 1.186, "scale": {"domain": [0, 1.2214], "nice": false}}}},
          {"transform": [{"filter": "datum.cond === 'shLuc'"}],
           "mark": {"type": "text", "fontSize": 16, "text": "NS", "align": "left", "dx": -5, "fontStyle": "italic"},
           "encoding": {"y": {"datum": 1.186, "scale": {"domain": [0, 1.2214], "nice": false}}}}
        ]
      },
      {"width": 76, "height": 171, "data": {"values": [{"a": 1}]}, "mark": {"type": "point", "opacity": 0}},
      {
        "width": 274, "height": 171,
        "data": {"name": "eright"},
        "layer": [
          {"mark": {"type": "bar", "stroke": "black", "strokeWidth": 2.2},
           "encoding": {
             "x": {"field": "gene", "type": "nominal", "scale": {"domain": ["COL5A1", "PPRC1", "ESM1", "GK"], "paddingInner": 0.37, "paddingOuter": 0.185},
                   "axis": {"labels": false, "tickSize": 4, "title": "Cell: LN-229", "titleFontSize": 16, "titleFontWeight": "normal", "titleX": -8, "titleY": 100, "titleAlign": "left", "titleBaseline": "top"}},
             "xOffset": {"field": "cond", "type": "nominal", "scale": {"domain": ["Vec", "COL5A1"], "paddingInner": 0.41, "paddingOuter": 0}},
             "y": {"field": "mean", "type": "quantitative", "scale": {"domain": [0, 6], "nice": false},
                   "axis": {"tickCount": 7, "labelOverlap": false, "title": "Relative mRNA expression level", "titleFontSize": 15, "titleFontWeight": "bold", "titlePadding": 20, "labelFontSize": 16, "tickSize": 4}},
             "fill": {"field": "status", "type": "nominal", "scale": {"domain": ["ctrl", "down", "ns", "oe"], "range": ["white", "#ffc000", "black", "black"]}}
           }},
          {"mark": {"type": "rule", "color": "black", "strokeWidth": 1.5},
           "encoding": {"x": {"field": "gene", "type": "nominal"}, "xOffset": {"field": "cond", "type": "nominal"}, "y": {"field": "mean", "type": "quantitative", "scale": {"domain": [0, 6], "nice": false}}, "y2": {"field": "upper"}}},
          {"mark": {"type": "tick", "color": "black", "thickness": 1.5, "size": 9},
           "encoding": {"x": {"field": "gene", "type": "nominal"}, "xOffset": {"field": "cond", "type": "nominal"}, "y": {"field": "upper", "type": "quantitative", "scale": {"domain": [0, 6], "nice": false}}}},
          {"data": {"name": "bright"},
           "mark": {"type": "line", "color": "#555", "strokeWidth": 1},
           "encoding": {"x": {"field": "gene", "type": "nominal"}, "xOffset": {"field": "cond", "type": "nominal"}, "y": {"field": "y", "type": "quantitative", "scale": {"domain": [0, 6], "nice": false}}, "detail": {"field": "gene"}, "order": {"field": "o", "type": "quantitative"}}},
          {"mark": {"type": "text", "fontSize": 15, "fontWeight": "bold", "angle": 270, "align": "right", "baseline": "middle"},
           "encoding": {"x": {"field": "gene", "type": "nominal"}, "xOffset": {"field": "cond", "type": "nominal"}, "y": {"datum": -0.2, "scale": {"domain": [0, 6], "nice": false}}, "text": {"field": "cond"}}},
          {"data": {"name": "eannr"},
           "mark": {"type": "text", "fontSize": 16, "fontStyle": "italic"},
           "encoding": {"x": {"field": "gene", "type": "nominal"}, "y": {"field": "ny", "type": "quantitative", "scale": {"domain": [0, 6], "nice": false}}, "text": {"field": "gene"}}},
          {"data": {"name": "eannr"}, "transform": [{"filter": "datum.gene !== 'GK'"}],
           "mark": {"type": "text", "fontSize": 16, "text": "p<0.001"},
           "encoding": {"x": {"field": "gene", "type": "nominal"}, "y": {"field": "py", "type": "quantitative", "scale": {"domain": [0, 6], "nice": false}}}},
          {"data": {"name": "eannr"}, "transform": [{"filter": "datum.gene === 'GK'"}],
           "mark": {"type": "text", "fontSize": 16, "text": "p=", "align": "right", "dx": -2},
           "encoding": {"x": {"field": "gene", "type": "nominal"}, "y": {"field": "py", "type": "quantitative", "scale": {"domain": [0, 6], "nice": false}}}},
          {"data": {"name": "eannr"}, "transform": [{"filter": "datum.gene === 'GK'"}],
           "mark": {"type": "text", "fontSize": 16, "text": "NS", "align": "left", "dx": -2, "fontStyle": "italic"},
           "encoding": {"x": {"field": "gene", "type": "nominal"}, "y": {"field": "py", "type": "quantitative", "scale": {"domain": [0, 6], "nice": false}}}}
        ]
      }
    ]
  }
]
}
